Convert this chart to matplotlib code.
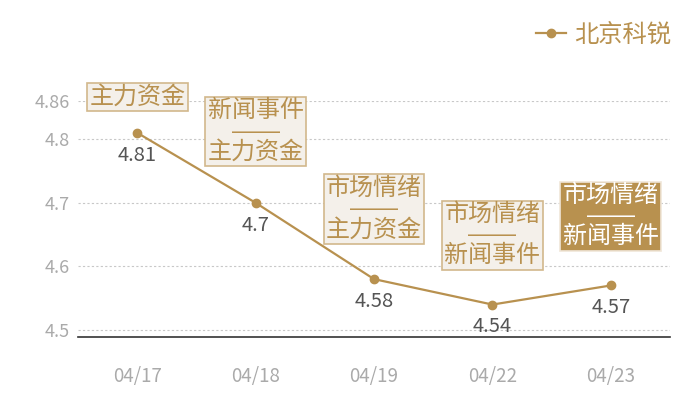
import matplotlib
matplotlib.use("Agg")
import matplotlib.pyplot as plt

plt.rcParams['font.family'] = ['Noto Sans CJK SC', 'DejaVu Sans']

# Data
dates = ["04/17", "04/18", "04/19", "04/22", "04/23"]
values = [4.81, 4.70, 4.58, 4.54, 4.57]
tags = ["主力资金", "新闻事件\n——\n主力资金", "市场情绪\n——\n主力资金",
        "市场情绪\n——\n新闻事件", "市场情绪\n——\n新闻事件"]
yticks = [4.5, 4.6, 4.7, 4.8, 4.86]
series_name = "北京科锐"

gold = "#b8914f"
x = range(len(dates))

fig = plt.figure(figsize=(7, 4), dpi=100)
ax = fig.add_axes([78 / 700, 63 / 400, 592 / 700, 236 / 400])

ax.plot(x, values, color=gold, lw=1.6, marker="o", ms=6, label=series_name, zorder=3)

ax.set_xlim(-0.5, len(dates) - 0.5)
ax.set_ylim(4.489, 4.86)
ax.set_yticks(yticks)
ax.set_yticklabels([f"{v:g}" for v in yticks])
ax.set_xticks(list(x))
ax.set_xticklabels(dates)
ax.tick_params(axis="y", length=0, pad=6, labelsize=13, labelcolor="#aaaaaa")
ax.tick_params(axis="x", length=0, pad=21, labelsize=13.5, labelcolor="#aaaaaa")
ax.grid(axis="y", ls=(0, (2, 2)), color="#c8c8c8", lw=0.8)
for s in ["top", "right", "left"]:
    ax.spines[s].set_visible(False)
ax.spines["bottom"].set_color("#333333")
ax.spines["bottom"].set_linewidth(1.2)

# value labels under the points
for i, v in enumerate(values):
    ax.annotate(f"{v:g}", (i, v), xytext=(0, -16), textcoords="offset points",
                ha="center", va="center", fontsize=14.5, color="#555555")

# tag boxes above the points
box_offsets = [25.6, 51, 50.4, 50, 50]
for i, (v, t) in enumerate(zip(values, tags)):
    last = i == len(values) - 1
    ax.annotate(t, (i, v), xytext=(0, box_offsets[i]), textcoords="offset points",
                ha="center", va="center", fontsize=17.3, linespacing=0.92,
                family=['Liberation Sans', 'Noto Sans CJK SC'],
                color="white" if last else gold,
                bbox=dict(boxstyle="square,pad=0.1",
                          fc=gold if last else "#f4f0ea",
                          ec="#f0e6d8" if last else "#d2b88c", lw=1.2),
                zorder=4)

fig.legend(loc="upper right", bbox_to_anchor=(0.99, 1.0), frameon=False,
           fontsize=17.5, labelcolor=gold, handlelength=1.2, handletextpad=0.35)

fig.savefig("out.png", dpi=100)
